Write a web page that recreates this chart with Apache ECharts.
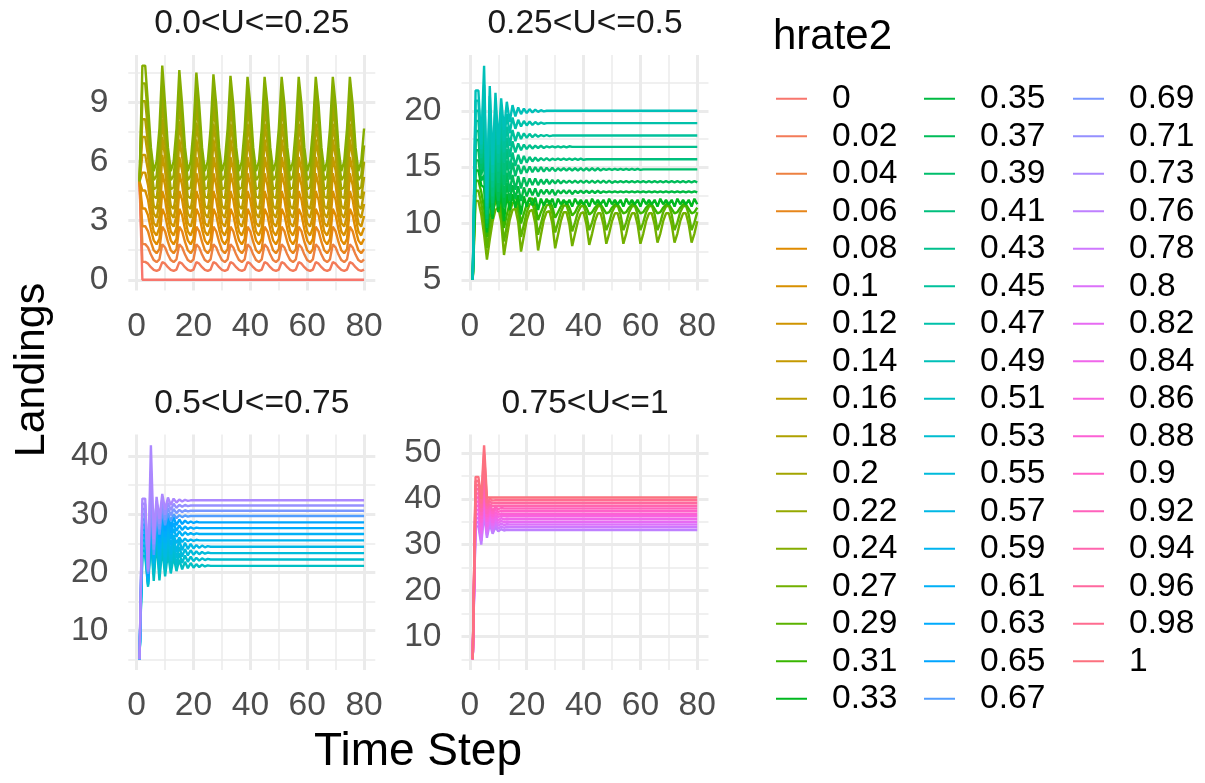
<!DOCTYPE html>
<html><head><meta charset="utf-8">
<script src="https://cdn.jsdelivr.net/npm/echarts@6/dist/echarts.min.js"></script>
<style>html,body{margin:0;padding:0;background:#fff}#chart{width:1205px;height:783px}</style>
</head><body><div id="chart"></div>
<script>
// ---------------- DATA ----------------
const timeSteps = [1,2,3,4,5,6,7,8,9,10,11,12,13,14,15,16,17,18,19,20,21,22,23,24,25,26,27,28,29,30,31,32,33,34,35,36,37,38,39,40,41,42,43,44,45,46,47,48,49,50,51,52,53,54,55,56,57,58,59,60,61,62,63,64,65,66,67,68,69,70,71,72,73,74,75,76,77,78,79,80];
const hrate2 = ['0','0.02','0.04','0.06','0.08','0.1','0.12','0.14','0.16','0.18','0.2','0.22','0.24','0.27','0.29','0.31','0.33','0.35','0.37','0.39','0.41','0.43','0.45','0.47','0.49','0.51','0.53','0.55','0.57','0.59','0.61','0.63','0.65','0.67','0.69','0.71','0.73','0.76','0.78','0.8','0.82','0.84','0.86','0.88','0.9','0.92','0.94','0.96','0.98','1'];
const facetTitles = ['0.0<U<=0.25','0.25<U<=0.5','0.5<U<=0.75','0.75<U<=1'];
const xTickLabels = [0,20,40,60,80];
const xMinorTicks = [10,30,50,70];
const yTicksP1 = [0,3,6,9], yMinorP1 = [1.5,4.5,7.5,10.5];
const yTicksP2 = [5,10,15,20], yMinorP2 = [7.5,12.5,17.5,22.5];
const yTicksP3 = [10,20,30,40], yMinorP3 = [5,15,25,35];
const yTicksP4 = [10,20,30,40,50], yMinorP4 = [5,15,25,35,45];

// panel 1
const h0_00 = [5,0,0,0,0,0,0,0,0,0, 0,0,0,0,0,0,0,0,0,0, 0,0,0,0,0,0,0,0,0,0, 0,0,0,0,0,0,0,0,0,0, 0,0,0,0,0,0,0,0,0,0, 0,0,0,0,0,0,0,0,0,0, 0,0,0,0,0,0,0,0,0,0, 0,0,0,0,0,0,0,0,0,0];
const h0_02 = [5,0.91,0.91,0.82,0.64,0.5,0.45,0.52,0.9,0.82, 0.64,0.5,0.45,0.52,0.9,0.82,0.64,0.5,0.45,0.52, 0.9,0.82,0.64,0.5,0.45,0.52,0.9,0.82,0.64,0.5, 0.45,0.52,0.9,0.82,0.64,0.5,0.45,0.52,0.9,0.82, 0.64,0.5,0.45,0.52,0.9,0.82,0.64,0.5,0.45,0.52, 0.9,0.82,0.64,0.5,0.45,0.52,0.9,0.82,0.64,0.5, 0.45,0.52,0.9,0.82,0.64,0.5,0.45,0.52,0.9,0.82, 0.64,0.5,0.45,0.52,0.9,0.82,0.64,0.5,0.45,0.52];
const h0_04 = [5,1.81,1.81,1.64,1.28,1.0,0.9,1.04,1.8,1.64, 1.28,1.0,0.9,1.04,1.8,1.64,1.28,1.0,0.9,1.04, 1.8,1.64,1.28,1.0,0.9,1.04,1.8,1.64,1.28,1.0, 0.9,1.04,1.8,1.64,1.28,1.0,0.9,1.04,1.8,1.64, 1.28,1.0,0.9,1.04,1.8,1.64,1.28,1.0,0.9,1.04, 1.8,1.64,1.28,1.0,0.9,1.04,1.8,1.64,1.28,1.0, 0.9,1.04,1.8,1.64,1.28,1.0,0.9,1.04,1.8,1.64, 1.28,1.0,0.9,1.04,1.8,1.64,1.28,1.0,0.9,1.04];
const h0_06 = [5,2.72,2.72,2.46,1.92,1.5,1.35,1.56,2.7,2.46, 1.92,1.5,1.35,1.56,2.7,2.46,1.92,1.5,1.35,1.56, 2.7,2.46,1.92,1.5,1.35,1.56,2.7,2.46,1.92,1.5, 1.35,1.56,2.7,2.46,1.92,1.5,1.35,1.56,2.7,2.46, 1.92,1.5,1.35,1.56,2.7,2.46,1.92,1.5,1.35,1.56, 2.7,2.46,1.92,1.5,1.35,1.56,2.7,2.46,1.92,1.5, 1.35,1.56,2.7,2.46,1.92,1.5,1.35,1.56,2.7,2.46, 1.92,1.5,1.35,1.56,2.7,2.46,1.92,1.5,1.35,1.56];
const h0_08 = [5,3.62,3.62,3.28,2.56,2.0,1.8,2.08,3.6,3.28, 2.56,2.0,1.8,2.08,3.6,3.28,2.56,2.0,1.8,2.08, 3.6,3.28,2.56,2.0,1.8,2.08,3.6,3.28,2.56,2.0, 1.8,2.08,3.6,3.28,2.56,2.0,1.8,2.08,3.6,3.28, 2.56,2.0,1.8,2.08,3.6,3.28,2.56,2.0,1.8,2.08, 3.6,3.28,2.56,2.0,1.8,2.08,3.6,3.28,2.56,2.0, 1.8,2.08,3.6,3.28,2.56,2.0,1.8,2.08,3.6,3.28, 2.56,2.0,1.8,2.08,3.6,3.28,2.56,2.0,1.8,2.08];
const h0_10 = [5,4.53,4.53,4.05,3.15,2.45,2.25,2.65,4.5,4.05, 3.15,2.45,2.25,2.65,4.5,4.05,3.15,2.45,2.25,2.65, 4.5,4.05,3.15,2.45,2.25,2.65,4.5,4.05,3.15,2.45, 2.25,2.65,4.5,4.05,3.15,2.45,2.25,2.65,4.5,4.05, 3.15,2.45,2.25,2.65,4.5,4.05,3.15,2.45,2.25,2.65, 4.5,4.05,3.15,2.45,2.25,2.65,4.5,4.05,3.15,2.45, 2.25,2.65,4.5,4.05,3.15,2.45,2.25,2.65,4.5,4.05, 3.15,2.45,2.25,2.65,4.5,4.05,3.15,2.45,2.25,2.65];
const h0_12 = [5,5.44,5.44,4.8,3.72,2.88,2.7,3.24,5.4,4.8, 3.72,2.88,2.7,3.24,5.4,4.8,3.72,2.88,2.7,3.24, 5.4,4.8,3.72,2.88,2.7,3.24,5.4,4.8,3.72,2.88, 2.7,3.24,5.4,4.8,3.72,2.88,2.7,3.24,5.4,4.8, 3.72,2.88,2.7,3.24,5.4,4.8,3.72,2.88,2.7,3.24, 5.4,4.8,3.72,2.88,2.7,3.24,5.4,4.8,3.72,2.88, 2.7,3.24,5.4,4.8,3.72,2.88,2.7,3.24,5.4,4.8, 3.72,2.88,2.7,3.24,5.4,4.8,3.72,2.88,2.7,3.24];
const h0_14 = [5,6.34,6.34,5.53,4.27,3.36,3.15,3.85,6.34,5.53, 4.27,3.36,3.15,3.85,6.23,5.53,4.27,3.36,3.15,3.85, 6.23,5.53,4.27,3.36,3.15,3.85,6.23,5.53,4.27,3.36, 3.15,3.85,6.23,5.53,4.27,3.36,3.15,3.85,6.23,5.53, 4.27,3.36,3.15,3.85,6.23,5.53,4.27,3.36,3.15,3.85, 6.23,5.53,4.27,3.36,3.15,3.85,6.23,5.53,4.27,3.36, 3.15,3.85,6.23,5.53,4.27,3.36,3.15,3.85,6.23,5.53, 4.27,3.36,3.15,3.85,6.23,5.53,4.27,3.36,3.15,3.85];
const h0_16 = [5,7.25,7.25,6.24,4.8,3.76,3.6,4.48,7.25,6.24, 4.8,3.76,3.6,4.48,7.12,6.24,4.8,3.76,3.6,4.48, 7.12,6.24,4.8,3.76,3.6,4.48,7.12,6.24,4.8,3.76, 3.6,4.48,7.12,6.24,4.8,3.76,3.6,4.48,7.12,6.24, 4.8,3.76,3.6,4.48,7.12,6.24,4.8,3.76,3.6,4.48, 7.12,6.24,4.8,3.76,3.6,4.48,7.12,6.24,4.8,3.76, 3.6,4.48,7.12,6.24,4.8,3.76,3.6,4.48,7.12,6.24, 4.8,3.76,3.6,4.48,7.12,6.24,4.8,3.76,3.6,4.48];
const h0_18 = [5,8.15,8.15,6.93,5.31,4.23,4.14,5.22,8.15,6.93, 5.31,4.23,4.14,5.22,8.05,6.93,5.31,4.23,4.14,5.22, 7.98,6.93,5.31,4.23,4.14,5.22,7.92,6.93,5.31,4.23, 4.14,5.22,7.92,6.93,5.31,4.23,4.14,5.22,7.92,6.93, 5.31,4.23,4.14,5.22,7.92,6.93,5.31,4.23,4.14,5.22, 7.92,6.93,5.31,4.23,4.14,5.22,7.92,6.93,5.31,4.23, 4.14,5.22,7.92,6.93,5.31,4.23,4.14,5.22,7.92,6.93, 5.31,4.23,4.14,5.22,7.92,6.93,5.31,4.23,4.14,5.22];
const h0_20 = [5,9.06,9.06,7.6,5.8,4.6,4.7,6.0,9.06,7.6, 5.8,4.6,4.7,6.0,8.95,7.6,5.8,4.6,4.7,6.0, 8.88,7.6,5.8,4.6,4.7,6.0,8.8,7.6,5.8,4.6, 4.7,6.0,8.8,7.6,5.8,4.6,4.7,6.0,8.8,7.6, 5.8,4.6,4.7,6.0,8.8,7.6,5.8,4.6,4.7,6.0, 8.8,7.6,5.8,4.6,4.7,6.0,8.8,7.6,5.8,4.6, 4.7,6.0,8.8,7.6,5.8,4.6,4.7,6.0,8.8,7.6, 5.8,4.6,4.7,6.0,8.8,7.6,5.8,4.6,4.7,6.0];
const h0_22 = [5,9.97,9.97,8.25,6.27,5.06,5.28,6.82,9.97,8.25, 6.27,5.06,5.28,6.82,9.8,8.25,6.27,5.06,5.28,6.82, 9.7,8.25,6.27,5.06,5.28,6.82,9.62,8.25,6.27,5.06, 5.28,6.82,9.57,8.25,6.27,5.06,5.28,6.82,9.57,8.25, 6.27,5.06,5.28,6.82,9.57,8.25,6.27,5.06,5.28,6.82, 9.57,8.25,6.27,5.06,5.28,6.82,9.57,8.25,6.27,5.06, 5.28,6.82,9.57,8.25,6.27,5.06,5.28,6.82,9.57,8.25, 6.27,5.06,5.28,6.82,9.57,8.25,6.27,5.06,5.28,6.82];
const h0_24 = [5,10.87,10.87,8.88,6.72,5.52,6.0,7.68,10.87,8.88, 6.72,5.52,6.0,7.68,10.65,8.88,6.72,5.52,6.0,7.68, 10.52,8.88,6.72,5.52,6.0,7.68,10.43,8.88,6.72,5.52, 6.0,7.68,10.35,8.88,6.72,5.52,6.0,7.68,10.3,8.88, 6.72,5.52,6.0,7.68,10.3,8.88,6.72,5.52,6.0,7.68, 10.3,8.88,6.72,5.52,6.0,7.68,10.3,8.88,6.72,5.52, 6.0,7.68,10.3,8.88,6.72,5.52,6.0,7.68,10.3,8.88, 6.72,5.52,6.0,7.68,10.3,8.88,6.72,5.52,6.0,7.68];
// panel 2
const h0_27 = [5,12.0,12.0,10.8,9.0,6.8,8.6,10.2,11.2,11.4, 10.2,7.2,8.8,10.3,11.2,11.3,10.1,7.5,8.9,10.3, 11.1,11.2,10.0,7.6,9.0,10.3,11.0,11.1,10.0,7.8, 9.0,10.2,11.0,11.0,9.9,8.0,9.1,10.2,10.9,11.0, 9.9,8.1,9.1,10.2,10.9,10.9,9.9,8.2,9.1,10.2, 10.9,10.9,9.9,8.2,9.1,10.2,10.9,10.9,9.9,8.2, 9.1,10.2,10.9,10.9,9.9,8.3,9.1,10.2,10.9,10.9, 9.9,8.3,9.1,10.2,10.9,10.9,9.9,8.3,9.1,10.2];
const h0_29 = [5,12.9,12.9,11.8,10.2,7.8,9.6,11.0,11.9,12.0, 11.0,8.4,9.8,11.0,11.8,11.9,11.0,8.8,9.9,11.0, 11.7,11.8,10.9,9.0,10.0,11.0,11.6,11.7,10.9,9.2, 10.1,11.0,11.6,11.6,10.8,9.3,10.1,11.0,11.5,11.6, 10.8,9.4,10.1,11.0,11.5,11.6,10.8,9.4,10.1,11.0, 11.5,11.6,10.8,9.4,10.1,11.0,11.5,11.6,10.8,9.4, 10.1,11.0,11.5,11.6,10.8,9.4,10.1,11.0,11.5,11.6, 10.8,9.4,10.1,11.0,11.5,11.6,10.8,9.4,10.1,11.0];
const h0_31 = [5,13.8,13.8,12.8,11.4,8.8,10.6,11.9,12.6,12.6, 11.8,9.6,10.8,11.8,12.4,12.4,11.7,10.0,10.9,11.7, 12.2,12.2,11.6,10.3,11.0,11.6,12.0,12.0,11.5,10.5, 11.0,11.5,11.9,11.9,11.4,10.7,11.0,11.5,11.8,11.8, 11.4,10.8,11.0,11.4,11.7,11.7,11.3,10.9,11.0,11.4, 11.7,11.7,11.3,10.9,11.0,11.4,11.7,11.7,11.3,10.9, 11.0,11.4,11.7,11.7,11.3,10.9,11.0,11.4,11.7,11.7, 11.3,10.9,11.0,11.4,11.7,11.7,11.3,10.9,11.0,11.4];
const h0_33 = [5,14.7,14.7,13.4,13.2,9.2,12.6,10.4,13.0,11.0, 12.9,10.2,12.6,11.2,12.6,11.4,12.5,10.8,12.4,11.5, 12.3,11.6,12.3,11.2,12.2,11.6,12.2,11.7,12.2,11.4, 12.2,11.7,12.1,11.7,12.1,11.5,12.2,11.7,12.1,11.7, 12.1,11.5,12.2,11.7,12.1,11.7,12.1,11.5,12.2,11.7, 12.1,11.7,12.1,11.5,12.2,11.7,12.1,11.7,12.1,11.5, 12.2,11.7,12.1,11.7,12.1,11.5,12.2,11.7,12.1,11.7, 12.1,11.5,12.2,11.7,12.1,11.7,12.1,11.5,12.2,11.7];
const h0_35 = [5,15.6,15.6,13.8,14.3,9.6,14.0,10.8,14.1,11.5, 13.8,11.4,13.6,12.0,13.4,12.2,13.3,12.0,13.2,12.4, 13.1,12.5,13.1,12.4,13.0,12.6,13.0,12.6,13.0,12.5, 12.95,12.65,12.95,12.65,12.95,12.6,12.9,12.7,12.9,12.7, 12.9,12.7,12.9,12.7,12.9,12.7,12.85,12.75,12.85,12.75, 12.85,12.75,12.85,12.75,12.85,12.75,12.85,12.75,12.85,12.75, 12.85,12.75,12.85,12.75,12.85,12.75,12.85,12.75,12.85,12.75, 12.85,12.75,12.85,12.75,12.85,12.75,12.85,12.75,12.85,12.75];
const h0_37 = [5,16.5,16.5,14.3,15.5,10.0,15.4,11.2,15.1,12.0, 14.8,12.3,14.5,12.8,14.3,13.0,14.2,13.1,14.1,13.3, 14.0,13.4,14.0,13.4,13.9,13.5,13.9,13.5,13.85,13.55, 13.85,13.55,13.8,13.6,13.8,13.6,13.8,13.6,13.8,13.6, 13.8,13.6,13.8,13.6,13.8,13.6,13.8,13.6,13.8,13.6, 13.75,13.65,13.75,13.65,13.75,13.65,13.75,13.65,13.75,13.65, 13.75,13.65,13.75,13.65,13.75,13.65,13.75,13.65,13.75,13.65, 13.75,13.65,13.75,13.65,13.75,13.65,13.75,13.65,13.75,13.65];
const h0_39 = [5,17.4,17.4,14.8,16.7,10.4,16.8,11.8,16.3,12.8, 15.9,13.4,15.6,13.9,15.4,14.2,15.2,14.4,15.1,14.5, 15.05,14.55,15.0,14.6,15.0,14.6,14.95,14.65,14.95,14.65, 14.9,14.7,14.9,14.7,14.9,14.7,14.9,14.7,14.9,14.7, 14.9,14.7,14.9,14.7,14.9,14.7,14.85,14.75,14.85,14.75, 14.85,14.75,14.85,14.75,14.85,14.75,14.85,14.75,14.85,14.75, 14.8,14.8,14.8,14.8,14.8,14.8,14.8,14.8,14.8,14.8, 14.8,14.8,14.8,14.8,14.8,14.8,14.8,14.8,14.8,14.8];
const h0_41 = [5,18.2,18.2,15.3,18.0,10.8,18.2,12.4,17.5,13.6, 17.0,14.3,16.6,14.8,16.3,15.1,16.1,15.3,16.0,15.4, 15.9,15.5,15.85,15.55,15.8,15.6,15.8,15.6,15.75,15.65, 15.75,15.65,15.75,15.65,15.75,15.65,15.75,15.65,15.75,15.65, 15.7,15.7,15.7,15.7,15.7,15.7,15.7,15.7,15.7,15.7, 15.7,15.7,15.7,15.7,15.7,15.7,15.7,15.7,15.7,15.7, 15.7,15.7,15.7,15.7,15.7,15.7,15.7,15.7,15.7,15.7, 15.7,15.7,15.7,15.7,15.7,15.7,15.7,15.7,15.7,15.7];
const h0_43 = [5,19.1,19.1,15.8,19.4,11.2,19.4,13.2,18.6,14.6, 18.0,15.4,17.6,15.9,17.3,16.3,17.1,16.5,17.0,16.6, 16.95,16.65,16.9,16.7,16.9,16.7,16.85,16.75,16.85,16.75, 16.85,16.75,16.85,16.75,16.85,16.8,16.8,16.8,16.8,16.8, 16.8,16.8,16.8,16.8,16.8,16.8,16.8,16.8,16.8,16.8, 16.8,16.8,16.8,16.8,16.8,16.8,16.8,16.8,16.8,16.8, 16.8,16.8,16.8,16.8,16.8,16.8,16.8,16.8,16.8,16.8, 16.8,16.8,16.8,16.8,16.8,16.8,16.8,16.8,16.8,16.8];
const h0_45 = [5,20.0,20.0,16.2,20.8,11.5,20.4,13.8,19.6,15.4, 19.0,16.3,18.6,16.9,18.3,17.3,18.1,17.5,18.0,17.6, 17.95,17.65,17.9,17.7,17.85,17.75,17.85,17.75,17.8,17.8, 17.8,17.8,17.8,17.8,17.8,17.8,17.8,17.8,17.8,17.8, 17.8,17.8,17.8,17.8,17.8,17.8,17.8,17.8,17.8,17.8, 17.8,17.8,17.8,17.8,17.8,17.8,17.8,17.8,17.8,17.8, 17.8,17.8,17.8,17.8,17.8,17.8,17.8,17.8,17.8,17.8, 17.8,17.8,17.8,17.8,17.8,17.8,17.8,17.8,17.8,17.8];
const h0_47 = [5,20.9,20.9,16.6,22.3,11.8,21.3,14.5,20.6,16.2, 20.1,17.3,19.7,18.0,19.4,18.4,19.2,18.6,19.1,18.7, 19.05,18.75,19.0,18.8,18.95,18.85,18.9,18.9,18.9,18.9, 18.9,18.9,18.9,18.9,18.9,18.9,18.9,18.9,18.9,18.9, 18.9,18.9,18.9,18.9,18.9,18.9,18.9,18.9,18.9,18.9, 18.9,18.9,18.9,18.9,18.9,18.9,18.9,18.9,18.9,18.9, 18.9,18.9,18.9,18.9,18.9,18.9,18.9,18.9,18.9,18.9, 18.9,18.9,18.9,18.9,18.9,18.9,18.9,18.9,18.9,18.9];
const h0_49 = [5,21.8,21.8,17.0,24.0,12.2,22.2,15.2,21.6,17.0, 21.1,18.3,20.8,19.0,20.5,19.5,20.3,19.7,20.2,19.8, 20.15,19.85,20.1,19.9,20.05,19.95,20,20,20,20, 20,20,20,20,20,20,20,20,20,20, 20,20,20,20,20,20,20,20,20,20, 20,20,20,20,20,20,20,20,20,20, 20,20,20,20,20,20,20,20,20,20, 20,20,20,20,20,20,20,20,20,20];
// panel 3
const h0_51 = [5,22.8,22.8,17.5,26.0,18.5,25.5,18.6,24.3,19.3, 23.4,19.8,22.7,20.2,22.2,20.5,21.8,20.7,21.6,20.8, 21.4,20.9,21.3,21.0,21.2,21.1,21.1,21.1,21.1,21.1, 21.1,21.1,21.1,21.1,21.1,21.1,21.1,21.1,21.1,21.1, 21.1,21.1,21.1,21.1,21.1,21.1,21.1,21.1,21.1,21.1, 21.1,21.1,21.1,21.1,21.1,21.1,21.1,21.1,21.1,21.1, 21.1,21.1,21.1,21.1,21.1,21.1,21.1,21.1,21.1,21.1, 21.1,21.1,21.1,21.1,21.1,21.1,21.1,21.1,21.1,21.1];
const h0_53 = [5,23.7,23.7,17.8,26.8,19.6,26.6,19.7,25.4,20.4, 24.5,20.9,23.8,21.3,23.3,21.6,22.9,21.8,22.7,21.9, 22.5,22.0,22.4,22.1,22.3,22.2,22.2,22.2,22.2,22.2, 22.2,22.2,22.2,22.2,22.2,22.2,22.2,22.2,22.2,22.2, 22.2,22.2,22.2,22.2,22.2,22.2,22.2,22.2,22.2,22.2, 22.2,22.2,22.2,22.2,22.2,22.2,22.2,22.2,22.2,22.2, 22.2,22.2,22.2,22.2,22.2,22.2,22.2,22.2,22.2,22.2, 22.2,22.2,22.2,22.2,22.2,22.2,22.2,22.2,22.2,22.2];
const h0_55 = [5,24.6,24.6,18.0,27.6,20.7,27.7,20.8,26.5,21.5, 25.6,22.0,24.9,22.4,24.4,22.7,24.0,22.9,23.8,23.0, 23.6,23.1,23.5,23.2,23.4,23.3,23.3,23.3,23.3,23.3, 23.3,23.3,23.3,23.3,23.3,23.3,23.3,23.3,23.3,23.3, 23.3,23.3,23.3,23.3,23.3,23.3,23.3,23.3,23.3,23.3, 23.3,23.3,23.3,23.3,23.3,23.3,23.3,23.3,23.3,23.3, 23.3,23.3,23.3,23.3,23.3,23.3,23.3,23.3,23.3,23.3, 23.3,23.3,23.3,23.3,23.3,23.3,23.3,23.3,23.3,23.3];
const h0_57 = [5,25.5,25.5,18.3,28.4,21.8,28.8,21.9,27.6,22.6, 26.7,23.1,26.0,23.5,25.5,23.8,25.1,24.0,24.9,24.1, 24.7,24.2,24.6,24.3,24.5,24.4,24.4,24.4,24.4,24.4, 24.4,24.4,24.4,24.4,24.4,24.4,24.4,24.4,24.4,24.4, 24.4,24.4,24.4,24.4,24.4,24.4,24.4,24.4,24.4,24.4, 24.4,24.4,24.4,24.4,24.4,24.4,24.4,24.4,24.4,24.4, 24.4,24.4,24.4,24.4,24.4,24.4,24.4,24.4,24.4,24.4, 24.4,24.4,24.4,24.4,24.4,24.4,24.4,24.4,24.4,24.4];
const h0_59 = [5,26.4,26.4,18.6,29.2,21.5,29.1,22.9,27.9,24.0, 27.0,24.6,26.4,25.0,26.0,25.2,25.8,25.35,25.65,25.4, 25.6,25.5,25.5,25.5,25.5,25.5,25.5,25.5,25.5,25.5, 25.5,25.5,25.5,25.5,25.5,25.5,25.5,25.5,25.5,25.5, 25.5,25.5,25.5,25.5,25.5,25.5,25.5,25.5,25.5,25.5, 25.5,25.5,25.5,25.5,25.5,25.5,25.5,25.5,25.5,25.5, 25.5,25.5,25.5,25.5,25.5,25.5,25.5,25.5,25.5,25.5, 25.5,25.5,25.5,25.5,25.5,25.5,25.5,25.5,25.5,25.5];
const h0_61 = [5,27.3,27.3,18.9,30.0,22.6,30.2,24.0,29.0,25.1, 28.1,25.7,27.5,26.1,27.1,26.3,26.9,26.45,26.75,26.5, 26.7,26.6,26.6,26.6,26.6,26.6,26.6,26.6,26.6,26.6, 26.6,26.6,26.6,26.6,26.6,26.6,26.6,26.6,26.6,26.6, 26.6,26.6,26.6,26.6,26.6,26.6,26.6,26.6,26.6,26.6, 26.6,26.6,26.6,26.6,26.6,26.6,26.6,26.6,26.6,26.6, 26.6,26.6,26.6,26.6,26.6,26.6,26.6,26.6,26.6,26.6, 26.6,26.6,26.6,26.6,26.6,26.6,26.6,26.6,26.6,26.6];
const h0_63 = [5,28.2,28.2,19.1,30.8,23.6,31.2,25.0,30.0,26.1, 29.1,26.7,28.5,27.1,28.1,27.3,27.9,27.45,27.75,27.5, 27.7,27.6,27.6,27.6,27.6,27.6,27.6,27.6,27.6,27.6, 27.6,27.6,27.6,27.6,27.6,27.6,27.6,27.6,27.6,27.6, 27.6,27.6,27.6,27.6,27.6,27.6,27.6,27.6,27.6,27.6, 27.6,27.6,27.6,27.6,27.6,27.6,27.6,27.6,27.6,27.6, 27.6,27.6,27.6,27.6,27.6,27.6,27.6,27.6,27.6,27.6, 27.6,27.6,27.6,27.6,27.6,27.6,27.6,27.6,27.6,27.6];
const h0_65 = [5,29.1,29.1,19.4,31.6,24.6,32.2,26.0,31.0,27.1, 30.1,27.7,29.5,28.1,29.1,28.3,28.9,28.45,28.75,28.5, 28.7,28.6,28.6,28.6,28.6,28.6,28.6,28.6,28.6,28.6, 28.6,28.6,28.6,28.6,28.6,28.6,28.6,28.6,28.6,28.6, 28.6,28.6,28.6,28.6,28.6,28.6,28.6,28.6,28.6,28.6, 28.6,28.6,28.6,28.6,28.6,28.6,28.6,28.6,28.6,28.6, 28.6,28.6,28.6,28.6,28.6,28.6,28.6,28.6,28.6,28.6, 28.6,28.6,28.6,28.6,28.6,28.6,28.6,28.6,28.6,28.6];
const h0_67 = [5,30.0,30.0,19.7,32.6,23.0,30.3,26.5,30.8,28.1, 30.2,28.9,30.0,29.3,29.85,29.5,29.8,29.6,29.7,29.7, 29.7,29.7,29.7,29.7,29.7,29.7,29.7,29.7,29.7,29.7, 29.7,29.7,29.7,29.7,29.7,29.7,29.7,29.7,29.7,29.7, 29.7,29.7,29.7,29.7,29.7,29.7,29.7,29.7,29.7,29.7, 29.7,29.7,29.7,29.7,29.7,29.7,29.7,29.7,29.7,29.7, 29.7,29.7,29.7,29.7,29.7,29.7,29.7,29.7,29.7,29.7, 29.7,29.7,29.7,29.7,29.7,29.7,29.7,29.7,29.7,29.7];
const h0_69 = [5,30.9,30.9,20.0,34.4,23.9,31.2,27.4,31.7,29.0, 31.1,29.8,30.9,30.2,30.75,30.4,30.7,30.5,30.6,30.6, 30.6,30.6,30.6,30.6,30.6,30.6,30.6,30.6,30.6,30.6, 30.6,30.6,30.6,30.6,30.6,30.6,30.6,30.6,30.6,30.6, 30.6,30.6,30.6,30.6,30.6,30.6,30.6,30.6,30.6,30.6, 30.6,30.6,30.6,30.6,30.6,30.6,30.6,30.6,30.6,30.6, 30.6,30.6,30.6,30.6,30.6,30.6,30.6,30.6,30.6,30.6, 30.6,30.6,30.6,30.6,30.6,30.6,30.6,30.6,30.6,30.6];
const h0_71 = [5,31.8,31.8,20.2,37.4,24.8,32.1,28.3,32.6,29.9, 32.0,30.7,31.8,31.1,31.65,31.3,31.6,31.4,31.5,31.5, 31.5,31.5,31.5,31.5,31.5,31.5,31.5,31.5,31.5,31.5, 31.5,31.5,31.5,31.5,31.5,31.5,31.5,31.5,31.5,31.5, 31.5,31.5,31.5,31.5,31.5,31.5,31.5,31.5,31.5,31.5, 31.5,31.5,31.5,31.5,31.5,31.5,31.5,31.5,31.5,31.5, 31.5,31.5,31.5,31.5,31.5,31.5,31.5,31.5,31.5,31.5, 31.5,31.5,31.5,31.5,31.5,31.5,31.5,31.5,31.5,31.5];
const h0_73 = [5,32.7,32.7,20.5,41.9,25.7,33.0,29.2,33.5,30.8, 32.9,31.6,32.7,32.0,32.55,32.2,32.5,32.3,32.4,32.4, 32.4,32.4,32.4,32.4,32.4,32.4,32.4,32.4,32.4,32.4, 32.4,32.4,32.4,32.4,32.4,32.4,32.4,32.4,32.4,32.4, 32.4,32.4,32.4,32.4,32.4,32.4,32.4,32.4,32.4,32.4, 32.4,32.4,32.4,32.4,32.4,32.4,32.4,32.4,32.4,32.4, 32.4,32.4,32.4,32.4,32.4,32.4,32.4,32.4,32.4,32.4, 32.4,32.4,32.4,32.4,32.4,32.4,32.4,32.4,32.4,32.4];
// panel 4
const h0_76 = [5,34.0,34.0,30.0,37.0,31.5,34.6,32.4,33.8,32.9, 33.4,33.1,33.25,33.2,33.2,33.2,33.2,33.2,33.2,33.2, 33.2,33.2,33.2,33.2,33.2,33.2,33.2,33.2,33.2,33.2, 33.2,33.2,33.2,33.2,33.2,33.2,33.2,33.2,33.2,33.2, 33.2,33.2,33.2,33.2,33.2,33.2,33.2,33.2,33.2,33.2, 33.2,33.2,33.2,33.2,33.2,33.2,33.2,33.2,33.2,33.2, 33.2,33.2,33.2,33.2,33.2,33.2,33.2,33.2,33.2,33.2, 33.2,33.2,33.2,33.2,33.2,33.2,33.2,33.2,33.2,33.2];
const h0_78 = [5,34.9,34.9,30.8,38.0,32.1,35.2,33.0,34.4,33.5, 34.0,33.7,33.85,33.8,33.8,33.8,33.8,33.8,33.8,33.8, 33.8,33.8,33.8,33.8,33.8,33.8,33.8,33.8,33.8,33.8, 33.8,33.8,33.8,33.8,33.8,33.8,33.8,33.8,33.8,33.8, 33.8,33.8,33.8,33.8,33.8,33.8,33.8,33.8,33.8,33.8, 33.8,33.8,33.8,33.8,33.8,33.8,33.8,33.8,33.8,33.8, 33.8,33.8,33.8,33.8,33.8,33.8,33.8,33.8,33.8,33.8, 33.8,33.8,33.8,33.8,33.8,33.8,33.8,33.8,33.8,33.8];
const h0_80 = [5,35.8,35.8,31.6,39.0,32.7,35.8,33.6,35.0,34.1, 34.6,34.3,34.45,34.4,34.4,34.4,34.4,34.4,34.4,34.4, 34.4,34.4,34.4,34.4,34.4,34.4,34.4,34.4,34.4,34.4, 34.4,34.4,34.4,34.4,34.4,34.4,34.4,34.4,34.4,34.4, 34.4,34.4,34.4,34.4,34.4,34.4,34.4,34.4,34.4,34.4, 34.4,34.4,34.4,34.4,34.4,34.4,34.4,34.4,34.4,34.4, 34.4,34.4,34.4,34.4,34.4,34.4,34.4,34.4,34.4,34.4, 34.4,34.4,34.4,34.4,34.4,34.4,34.4,34.4,34.4,34.4];
const h0_82 = [5,36.7,36.7,32.4,40.0,33.3,36.4,34.2,35.6,34.7, 35.2,34.9,35.05,35,35,35,35,35,35,35, 35,35,35,35,35,35,35,35,35,35, 35,35,35,35,35,35,35,35,35,35, 35,35,35,35,35,35,35,35,35,35, 35,35,35,35,35,35,35,35,35,35, 35,35,35,35,35,35,35,35,35,35, 35,35,35,35,35,35,35,35,35,35];
const h0_84 = [5,37.6,37.6,33.2,41.0,33.9,37.0,34.8,36.2,35.3, 35.8,35.5,35.65,35.6,35.6,35.6,35.6,35.6,35.6,35.6, 35.6,35.6,35.6,35.6,35.6,35.6,35.6,35.6,35.6,35.6, 35.6,35.6,35.6,35.6,35.6,35.6,35.6,35.6,35.6,35.6, 35.6,35.6,35.6,35.6,35.6,35.6,35.6,35.6,35.6,35.6, 35.6,35.6,35.6,35.6,35.6,35.6,35.6,35.6,35.6,35.6, 35.6,35.6,35.6,35.6,35.6,35.6,35.6,35.6,35.6,35.6, 35.6,35.6,35.6,35.6,35.6,35.6,35.6,35.6,35.6,35.6];
const h0_86 = [5,38.5,38.5,34.0,42.0,35.0,37.1,35.7,36.5,36.05, 36.3,36.2,36.2,36.2,36.2,36.2,36.2,36.2,36.2,36.2, 36.2,36.2,36.2,36.2,36.2,36.2,36.2,36.2,36.2,36.2, 36.2,36.2,36.2,36.2,36.2,36.2,36.2,36.2,36.2,36.2, 36.2,36.2,36.2,36.2,36.2,36.2,36.2,36.2,36.2,36.2, 36.2,36.2,36.2,36.2,36.2,36.2,36.2,36.2,36.2,36.2, 36.2,36.2,36.2,36.2,36.2,36.2,36.2,36.2,36.2,36.2, 36.2,36.2,36.2,36.2,36.2,36.2,36.2,36.2,36.2,36.2];
const h0_88 = [5,39.4,39.4,34.8,43.0,35.5,37.6,36.2,37.0,36.55, 36.8,36.7,36.7,36.7,36.7,36.7,36.7,36.7,36.7,36.7, 36.7,36.7,36.7,36.7,36.7,36.7,36.7,36.7,36.7,36.7, 36.7,36.7,36.7,36.7,36.7,36.7,36.7,36.7,36.7,36.7, 36.7,36.7,36.7,36.7,36.7,36.7,36.7,36.7,36.7,36.7, 36.7,36.7,36.7,36.7,36.7,36.7,36.7,36.7,36.7,36.7, 36.7,36.7,36.7,36.7,36.7,36.7,36.7,36.7,36.7,36.7, 36.7,36.7,36.7,36.7,36.7,36.7,36.7,36.7,36.7,36.7];
const h0_90 = [5,40.3,40.3,35.6,44.0,36.1,38.2,36.8,37.6,37.15, 37.4,37.3,37.3,37.3,37.3,37.3,37.3,37.3,37.3,37.3, 37.3,37.3,37.3,37.3,37.3,37.3,37.3,37.3,37.3,37.3, 37.3,37.3,37.3,37.3,37.3,37.3,37.3,37.3,37.3,37.3, 37.3,37.3,37.3,37.3,37.3,37.3,37.3,37.3,37.3,37.3, 37.3,37.3,37.3,37.3,37.3,37.3,37.3,37.3,37.3,37.3, 37.3,37.3,37.3,37.3,37.3,37.3,37.3,37.3,37.3,37.3, 37.3,37.3,37.3,37.3,37.3,37.3,37.3,37.3,37.3,37.3];
const h0_92 = [5,41.2,41.2,36.4,45.2,36.7,38.8,37.4,38.2,37.75, 38.0,37.9,37.9,37.9,37.9,37.9,37.9,37.9,37.9,37.9, 37.9,37.9,37.9,37.9,37.9,37.9,37.9,37.9,37.9,37.9, 37.9,37.9,37.9,37.9,37.9,37.9,37.9,37.9,37.9,37.9, 37.9,37.9,37.9,37.9,37.9,37.9,37.9,37.9,37.9,37.9, 37.9,37.9,37.9,37.9,37.9,37.9,37.9,37.9,37.9,37.9, 37.9,37.9,37.9,37.9,37.9,37.9,37.9,37.9,37.9,37.9, 37.9,37.9,37.9,37.9,37.9,37.9,37.9,37.9,37.9,37.9];
const h0_94 = [5,42.1,42.1,37.2,46.5,37.9,38.8,38.4,38.5,38.5, 38.5,38.5,38.5,38.5,38.5,38.5,38.5,38.5,38.5,38.5, 38.5,38.5,38.5,38.5,38.5,38.5,38.5,38.5,38.5,38.5, 38.5,38.5,38.5,38.5,38.5,38.5,38.5,38.5,38.5,38.5, 38.5,38.5,38.5,38.5,38.5,38.5,38.5,38.5,38.5,38.5, 38.5,38.5,38.5,38.5,38.5,38.5,38.5,38.5,38.5,38.5, 38.5,38.5,38.5,38.5,38.5,38.5,38.5,38.5,38.5,38.5, 38.5,38.5,38.5,38.5,38.5,38.5,38.5,38.5,38.5,38.5];
const h0_96 = [5,43.0,43.0,38.0,48.0,38.5,39.4,39.0,39.1,39.1, 39.1,39.1,39.1,39.1,39.1,39.1,39.1,39.1,39.1,39.1, 39.1,39.1,39.1,39.1,39.1,39.1,39.1,39.1,39.1,39.1, 39.1,39.1,39.1,39.1,39.1,39.1,39.1,39.1,39.1,39.1, 39.1,39.1,39.1,39.1,39.1,39.1,39.1,39.1,39.1,39.1, 39.1,39.1,39.1,39.1,39.1,39.1,39.1,39.1,39.1,39.1, 39.1,39.1,39.1,39.1,39.1,39.1,39.1,39.1,39.1,39.1, 39.1,39.1,39.1,39.1,39.1,39.1,39.1,39.1,39.1,39.1];
const h0_98 = [5,43.9,43.9,39.0,49.8,39.1,40.0,39.6,39.7,39.7, 39.7,39.7,39.7,39.7,39.7,39.7,39.7,39.7,39.7,39.7, 39.7,39.7,39.7,39.7,39.7,39.7,39.7,39.7,39.7,39.7, 39.7,39.7,39.7,39.7,39.7,39.7,39.7,39.7,39.7,39.7, 39.7,39.7,39.7,39.7,39.7,39.7,39.7,39.7,39.7,39.7, 39.7,39.7,39.7,39.7,39.7,39.7,39.7,39.7,39.7,39.7, 39.7,39.7,39.7,39.7,39.7,39.7,39.7,39.7,39.7,39.7, 39.7,39.7,39.7,39.7,39.7,39.7,39.7,39.7,39.7,39.7];
const h1_00 = [5,44.8,44.8,40.0,51.7,40.3,40.3,40.3,40.3,40.3, 40.3,40.3,40.3,40.3,40.3,40.3,40.3,40.3,40.3,40.3, 40.3,40.3,40.3,40.3,40.3,40.3,40.3,40.3,40.3,40.3, 40.3,40.3,40.3,40.3,40.3,40.3,40.3,40.3,40.3,40.3, 40.3,40.3,40.3,40.3,40.3,40.3,40.3,40.3,40.3,40.3, 40.3,40.3,40.3,40.3,40.3,40.3,40.3,40.3,40.3,40.3, 40.3,40.3,40.3,40.3,40.3,40.3,40.3,40.3,40.3,40.3, 40.3,40.3,40.3,40.3,40.3,40.3,40.3,40.3,40.3,40.3];

const seriesValues = [h0_00,h0_02,h0_04,h0_06,h0_08,h0_10,h0_12,h0_14,h0_16,h0_18,h0_20,h0_22,h0_24,
  h0_27,h0_29,h0_31,h0_33,h0_35,h0_37,h0_39,h0_41,h0_43,h0_45,h0_47,h0_49,
  h0_51,h0_53,h0_55,h0_57,h0_59,h0_61,h0_63,h0_65,h0_67,h0_69,h0_71,h0_73,
  h0_76,h0_78,h0_80,h0_82,h0_84,h0_86,h0_88,h0_90,h0_92,h0_94,h0_96,h0_98,h1_00];

// ---------------- STYLE / LAYOUT ----------------
function hclHex(h, c, l) {
  const rad = h * Math.PI / 180;
  const U = c * Math.cos(rad), V = c * Math.sin(rad);
  const Xn = 95.047, Yn = 100, Zn = 108.883;
  const den = Xn + 15 * Yn + 3 * Zn;
  const un = 4 * Xn / den, vn = 9 * Yn / den;
  const Y = Yn * Math.pow((l + 16) / 116, 3);
  const u = U / (13 * l) + un, v = V / (13 * l) + vn;
  const X = 9 * Y * u / (4 * v);
  const Z = -X / 3 - 5 * Y + 3 * Y / v;
  const x = X / 100, y = Y / 100, z = Z / 100;
  const lin = [3.240479*x - 1.537150*y - 0.498535*z, -0.969256*x + 1.875992*y + 0.041556*z, 0.055648*x - 0.204043*y + 1.057311*z];
  return '#' + lin.map(t => {
    let g = t <= 0.0031308 ? 12.92 * t : 1.055 * Math.pow(t, 1 / 2.4) - 0.055;
    g = Math.min(1, Math.max(0, g));
    return Math.round(g * 255).toString(16).padStart(2, '0');
  }).join('');
}
const N = hrate2.length;
const colors = hrate2.map((_, i) => hclHex(15 + 360 * i / N, 100, 65));
const panelOf = v => (v <= 0.25 ? 0 : v <= 0.5 ? 1 : v <= 0.75 ? 2 : 3);

const FONT = '"Liberation Sans", Arial, Helvetica, sans-serif';
const panels = [
  {left: 128.3, top: 55,    yMin: -0.5435, yMax: 11.41,  major: yTicksP1, minor: yMinorP1},
  {left: 461.5, top: 55,    yMin: 4.05,    yMax: 24.95,  major: yTicksP2, minor: yMinorP2},
  {left: 128.3, top: 434.5, yMin: 3.155,   yMax: 43.745, major: yTicksP3, minor: yMinorP3},
  {left: 461.5, top: 434.5, yMin: 2.665,   yMax: 54.035, major: yTicksP4, minor: yMinorP4}
];
const PW = 247, PH = 235.5, XMIN = -2.95, XMAX = 83.95;
const GRID = '#EBEBEB';

const grid = panels.map(p => ({left: p.left, top: p.top, width: PW, height: PH, containLabel: false, outerBoundsMode: 'none'}));
const xAxis = [], yAxis = [];
panels.forEach((p, g) => {
  xAxis.push({gridIndex: g, type: 'value', min: XMIN, max: XMAX,
    axisLine: {show: false}, axisTick: {show: false, customValues: xTickLabels},
    axisLabel: {customValues: xTickLabels, fontSize: 33.6, color: '#4D4D4D', fontFamily: FONT, margin: 19},
    splitLine: {show: true, lineStyle: {color: GRID, width: 3}}});
  yAxis.push({gridIndex: g, type: 'value', min: p.yMin, max: p.yMax,
    axisLine: {show: false}, axisTick: {show: false, customValues: p.major},
    axisLabel: {customValues: p.major, fontSize: 33.6, color: '#4D4D4D', fontFamily: FONT, margin: 20},
    splitLine: {show: true, lineStyle: {color: GRID, width: 3}}});
});
panels.forEach((p, g) => {
  xAxis.push({gridIndex: g, type: 'value', min: XMIN, max: XMAX, position: 'bottom',
    axisLine: {show: false}, axisTick: {show: false, customValues: xMinorTicks}, axisLabel: {show: false},
    splitLine: {show: true, lineStyle: {color: GRID, width: 1.5}}});
  yAxis.push({gridIndex: g, type: 'value', min: p.yMin, max: p.yMax, position: 'left',
    axisLine: {show: false}, axisTick: {show: false, customValues: p.minor}, axisLabel: {show: false},
    splitLine: {show: true, lineStyle: {color: GRID, width: 1.5}}});
});

const series = seriesValues.map((vals, i) => {
  const g = panelOf(parseFloat(hrate2[i]));
  return {
    name: hrate2[i], type: 'line', xAxisIndex: g, yAxisIndex: g,
    data: vals.map((v, j) => [timeSteps[j], v]),
    symbol: 'none', showSymbol: false, silent: true, animation: false,
    lineStyle: {width: 2.4, color: colors[i]}, itemStyle: {color: colors[i], borderWidth: 0},
    emphasis: {disabled: true}
  };
});

const legendCols = [[0, 17], [17, 34], [34, 50]];
const legendLeft = [776, 924, 1073];
const legend = legendCols.map((r, k) => ({
  orient: 'vertical', left: legendLeft[k], top: 80, padding: 0, itemGap: 0,
  itemWidth: 51, itemHeight: 2, icon: 'path://M0,0L31,0L31,2L0,2Z M51,0L51,2',
  itemStyle: {borderWidth: 0}, selectedMode: false,
  textStyle: {fontSize: 33.6, color: '#000', fontFamily: FONT, lineHeight: 37.5},
  data: hrate2.slice(r[0], r[1])
}));

const graphic = [];
panels.forEach((p, g) => {
  graphic.push({type: 'text', x: p.left + PW / 2, y: p.top - 31, silent: true,
    style: {text: facetTitles[g], font: '33.6px ' + FONT, fill: '#1A1A1A', textAlign: 'center', textVerticalAlign: 'middle'}});
});
graphic.push({type: 'text', x: 32, y: 370, rotation: Math.PI / 2, silent: true,
  style: {text: 'Landings', font: '43px ' + FONT, fill: '#000', textAlign: 'center', textVerticalAlign: 'middle'}});
graphic.push({type: 'text', x: 418, y: 752, silent: true,
  style: {text: 'Time Step', font: '46px ' + FONT, fill: '#000', textAlign: 'center', textVerticalAlign: 'middle'}});
graphic.push({type: 'text', x: 773, y: 37, silent: true,
  style: {text: 'hrate2', font: '42px ' + FONT, fill: '#000', textAlign: 'left', textVerticalAlign: 'middle'}});

const chart = echarts.init(document.getElementById('chart'), null, {renderer: 'canvas'});
chart.setOption({
  animation: false, backgroundColor: '#FFFFFF',
  grid, xAxis, yAxis, series, legend, graphic
});
</script></body></html>
